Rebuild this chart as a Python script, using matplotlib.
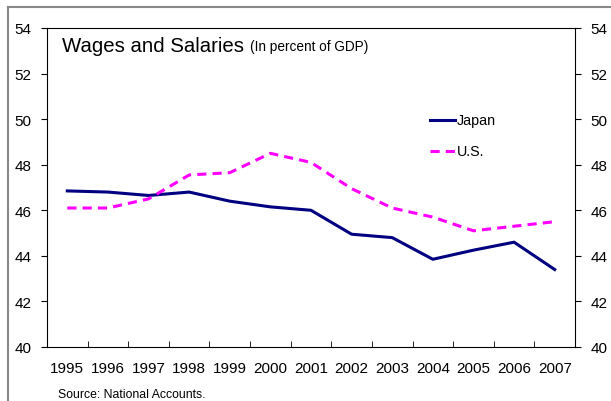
import matplotlib.pyplot as plt
import numpy as np
from matplotlib.lines import Line2D

plt.rcParams.update({
    'font.family': ['Liberation Sans', 'DejaVu Sans'],
    'font.size': 10,
})

years = ['1995', '1996', '1997', '1998', '1999', '2000', '2001',
         '2002', '2003', '2004', '2005', '2006', '2007']
japan = [46.85, 46.8, 46.65, 46.8, 46.4, 46.15, 46.0, 44.95, 44.8, 43.85, 44.25, 44.6, 43.4]
us = [46.1, 46.1, 46.5, 47.55, 47.65, 48.5, 48.1, 46.95, 46.1, 45.7, 45.1, 45.3, 45.5]
yticks = [40, 42, 44, 46, 48, 50, 52, 54]

fig = plt.figure(figsize=(6.11, 4.02), dpi=100)
ax = fig.add_axes([47 / 611, 1 - 348 / 402, 528 / 611, 319 / 402])

x = np.arange(len(years))
ax.plot(x, japan, color='#000080', lw=2.2, solid_joinstyle='round')
ax.plot(x, us, color='#FF00FF', lw=2.2, dashes=(3, 2))

ax.set_xlim(-0.5, len(years) - 0.5)
ax.set_ylim(40, 54)
ax.set_yticks(yticks)
ax.tick_params(axis='y', direction='out', length=4, labelsize=11, pad=7,
               left=True, right=True, labelleft=True, labelright=True)
ax.set_xticks(x)
ax.set_xticklabels(years)
ax.tick_params(axis='x', length=0, labelsize=11, pad=10)
ax.set_xticks(np.arange(len(years)) + 0.5, minor=True)
ax.tick_params(axis='x', which='minor', direction='in', length=4)
for s in ax.spines.values():
    s.set_linewidth(0.8)

# title
fig.text(62 / 611, 1 - 46 / 402, 'Wages and Salaries', fontsize=14.7, va='center')
fig.text(250 / 611, 1 - 47 / 402, '(In percent of GDP)', fontsize=9.8, va='center')

# legend
lx0, lx1 = 430 / 611, 455 / 611
fig.add_artist(Line2D([lx0, lx1], [1 - 121 / 402] * 2, color='#000080', lw=2.2))
fig.text(457 / 611, 1 - 121 / 402, 'Japan', fontsize=10.3, va='center')
fig.add_artist(Line2D([lx0, lx1], [1 - 152 / 402] * 2, color='#FF00FF', lw=2.2, dashes=(3, 2)))
fig.text(457 / 611, 1 - 152 / 402, 'U.S.', fontsize=10.3, va='center')

fig.text(58 / 611, 1 - 395 / 402, 'Source: National Accounts.', fontsize=8.8, va='center')

# outer frame
fig.add_artist(Line2D([8 / 611, 8 / 611], [0, 1 - 8 / 402], color='#888888', lw=1.5))
fig.add_artist(Line2D([8 / 611, 1], [1 - 8 / 402] * 2, color='#888888', lw=1.5))

fig.savefig('out.png', dpi=100)
